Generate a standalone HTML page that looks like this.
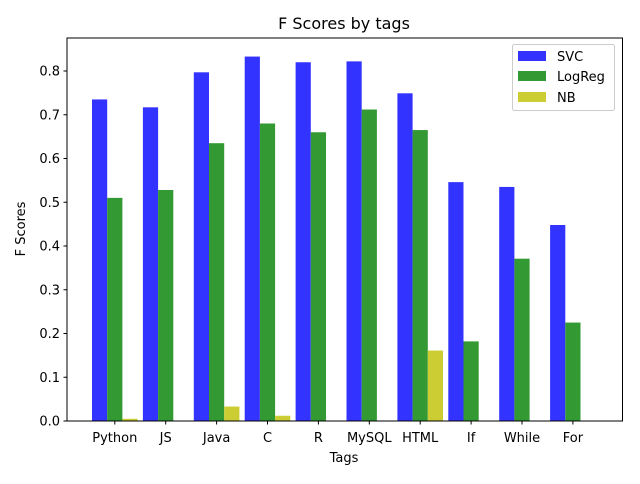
<!DOCTYPE html>
<html><head><meta charset="utf-8"><style>
body{margin:0;background:#fff;font-family:"DejaVu Sans","Liberation Sans",sans-serif;}
</style></head><body>
<svg width="640" height="480" xmlns="http://www.w3.org/2000/svg" font-family="DejaVu Sans, Liberation Sans, sans-serif">
<rect width="640" height="480" fill="#fff"/>
<text x="344" y="29" font-size="16" text-anchor="middle">F Scores by tags</text>
<g id="bars"></g>
<g id="axes"></g>
<text x="344" y="462" font-size="13" text-anchor="middle">Tags</text>
<text x="25" y="229" font-size="13" text-anchor="middle" transform="rotate(-90 25 229)">F Scores</text>
<rect x="67" y="38" width="555.5" height="383" fill="none" stroke="#000" stroke-width="1"/>
<g>
<rect x="512.5" y="44.5" width="102" height="66" rx="2" fill="#fff" stroke="#ccc"/>
<rect x="518" y="51" width="28" height="10" fill="#3333ff"/>
<text x="557" y="61" font-size="13">SVC</text>
<rect x="518" y="71" width="28" height="10" fill="#339933"/>
<text x="557" y="81" font-size="13">LogReg</text>
<rect x="518" y="92" width="28" height="10" fill="#cccc33"/>
<text x="557" y="102" font-size="13">NB</text>
</g>
</svg>
<script>
const categories=["Python","JS","Java","C","R","MySQL","HTML","If","While","For"];
const svc=[0.735,0.717,0.797,0.833,0.820,0.822,0.749,0.546,0.535,0.448];
const logreg=[0.510,0.528,0.635,0.680,0.660,0.712,0.665,0.182,0.371,0.225];
const nb=[0.005,0,0.033,0.012,0,0,0.161,0,0,0];
const yTicks=[0,0.1,0.2,0.3,0.4,0.5,0.6,0.7,0.8];
const NS="http://www.w3.org/2000/svg";
const y=v=>421-v*437.5;
const gx=i=>92+i*50.9;
const bw=15.2;
const bars=document.getElementById('bars');
const axes=document.getElementById('axes');
const series=[[svc,"#3333ff","svc"],[logreg,"#339933","logreg"],[nb,"#cccc33","nb"]];
series.forEach(([vals,col,nm],s)=>{
  vals.forEach((v,i)=>{
    const r=document.createElementNS(NS,'rect');
    r.setAttribute('x',gx(i)+s*bw);
    r.setAttribute('y',y(v));
    r.setAttribute('width',bw);
    r.setAttribute('height',421-y(v));
    r.setAttribute('fill',col);
    
    
    bars.appendChild(r);
  });
});
categories.forEach((c,i)=>{
  const cx=gx(i)+1.5*bw;
  const l=document.createElementNS(NS,'line');
  l.setAttribute('x1',cx);l.setAttribute('x2',cx);l.setAttribute('y1',421);l.setAttribute('y2',424.5);l.setAttribute('stroke','#000');
  
  
  axes.appendChild(l);
  const t=document.createElementNS(NS,'text');
  t.setAttribute('x',cx);t.setAttribute('y',442);t.setAttribute('font-size','13');t.setAttribute('text-anchor','middle');
  t.textContent=c;
  
  
  axes.appendChild(t);
});
yTicks.forEach(v=>{
  const yy=y(v);
  const l=document.createElementNS(NS,'line');
  l.setAttribute('x1',63.5);l.setAttribute('x2',67);l.setAttribute('y1',yy);l.setAttribute('y2',yy);l.setAttribute('stroke','#000');
  
  
  axes.appendChild(l);
  const t=document.createElementNS(NS,'text');
  t.setAttribute('x',60);t.setAttribute('y',yy+4.5);t.setAttribute('font-size','13');t.setAttribute('text-anchor','end');
  t.textContent=v.toFixed(1);
  
  
  axes.appendChild(t);
});
</script>
</body></html>
